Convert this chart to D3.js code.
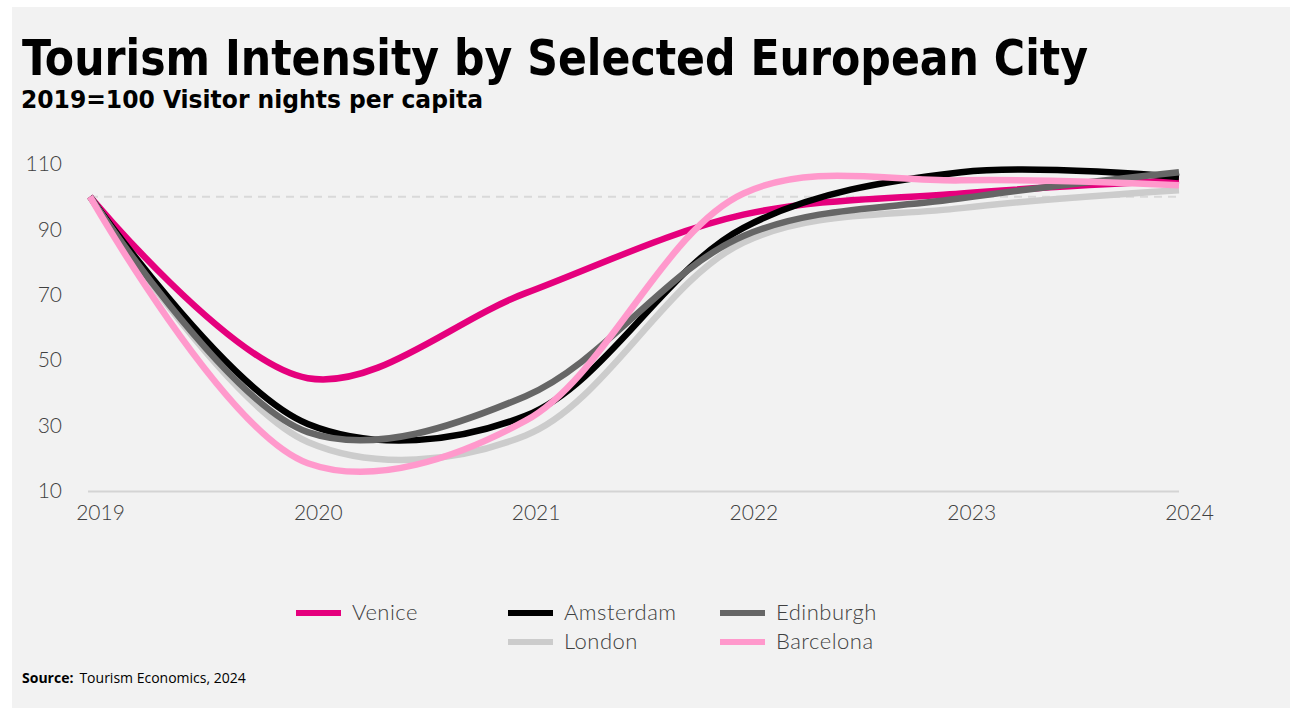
<!DOCTYPE html>
<html>
<head>
<meta charset="utf-8">
<script src="https://cdn.jsdelivr.net/npm/d3@7"></script>
<style>
  html, body { margin: 0; padding: 0; background: #ffffff; }
  svg { display: block; }
</style>
</head>
<body>
<svg id="chart" width="1290" height="708"></svg>
<script>
const years = [2019, 2020, 2021, 2022, 2023, 2024];
const yTicks = [10, 30, 50, 70, 90, 110];
const venice    = [100, 44.5, 70.5, 94.5, 101, 105];
const amsterdam = [100, 30.5, 33, 90.5, 107.5, 106];
const edinburgh = [100, 28, 39, 88, 99.5, 107.5];
const london    = [100, 25, 27, 86, 96.5, 102];
const barcelona = [100, 18.5, 31.5, 101, 105, 103.5];
const refValue = 100;

const series = [
  { name: "Venice",    values: venice,    color: "#e5007d" },
  { name: "Amsterdam", values: amsterdam, color: "#000000" },
  { name: "Edinburgh", values: edinburgh, color: "#666666" },
  { name: "London",    values: london,    color: "#cccccc" },
  { name: "Barcelona", values: barcelona, color: "#ff99cc" }
];
const drawOrder = ["Venice", "Amsterdam", "London", "Edinburgh", "Barcelona"];
const legendPos = { Venice: [0, 0], Amsterdam: [1, 0], Edinburgh: [2, 0], London: [1, 1], Barcelona: [2, 1] };

const svg = d3.select("#chart");
const labelFont = "Lato, 'Open Sans', sans-serif";
const headFont = "'DejaVu Sans Condensed', 'Liberation Sans Narrow', sans-serif";

svg.append("rect").attr("x", 12).attr("y", 7).attr("width", 1278).attr("height", 701).attr("fill", "#f2f2f2");

function fitText(sel, w) {
  sel.attr("textLength", w).attr("lengthAdjust", "spacingAndGlyphs");
}
const title = svg.append("text").attr("x", 22).attr("y", 75)
  .attr("font-family", headFont).attr("font-weight", 700).attr("font-size", 49).attr("fill", "#000")
  .text("Tourism Intensity by Selected European City");
fitText(title, 1066);
const sub = svg.append("text").attr("x", 21).attr("y", 108)
  .attr("font-family", headFont).attr("font-weight", 700).attr("font-size", 24).attr("fill", "#000")
  .text("2019=100 Visitor nights per capita");
fitText(sub, 462);

const x = d3.scaleLinear().domain([2019, 2024]).range([90, 1179]);
const y = d3.scaleLinear().domain([10, 110]).range([491, 164]);

svg.append("line").attr("x1", 88).attr("x2", x(2024)).attr("y1", y(10) + 0.5).attr("y2", y(10) + 0.5)
  .attr("stroke", "#d4d4d4").attr("stroke-width", 2);
svg.append("line").attr("x1", x(2019)).attr("x2", x(2024)).attr("y1", y(refValue)).attr("y2", y(refValue))
  .attr("stroke", "#d9d9d9").attr("stroke-width", 2).attr("stroke-dasharray", "8,6");

const yAxis = svg.append("g").attr("transform", `translate(${x(2019)},0)`)
  .call(d3.axisLeft(y).tickValues(yTicks).tickSize(0).tickPadding(28));
yAxis.select(".domain").remove();
yAxis.selectAll("text").attr("font-family", labelFont).attr("font-weight", 300)
  .attr("font-size", 21).attr("fill", "#404040");

const xAxis = svg.append("g").attr("transform", `translate(10,${y(10)})`)
  .call(d3.axisBottom(x).tickValues(years).tickFormat(d3.format("d")).tickSize(0).tickPadding(14));
xAxis.select(".domain").remove();
xAxis.selectAll("text").attr("font-family", labelFont).attr("font-weight", 300)
  .attr("font-size", 21).attr("fill", "#404040");

const line = d3.line()
  .x((d, i) => x(years[i]))
  .y(d => y(d))
  .curve(d3.curveCatmullRom.alpha(0.5));

drawOrder.forEach(n => {
  const s = series.find(d => d.name === n);
  svg.append("path").attr("d", line(s.values)).attr("fill", "none")
    .attr("stroke", s.color).attr("stroke-width", 6.5).attr("stroke-linecap", "butt")
    .attr("stroke-linejoin", "round");
});

const lg = svg.append("g");
series.forEach(s => {
  const [c, r] = legendPos[s.name];
  const lx = 296 + c * 212, ly = 613 + r * 29;
  lg.append("line").attr("x1", lx).attr("x2", lx + 45).attr("y1", ly).attr("y2", ly)
    .attr("stroke", s.color).attr("stroke-width", 6);
  lg.append("text").attr("x", lx + 56).attr("y", ly + 7)
    .attr("font-family", labelFont).attr("font-weight", 300).attr("font-size", 22)
    .attr("letter-spacing", 0.5)
    .attr("fill", "#404040").text(s.name);
});

const src = svg.append("text").attr("x", 22).attr("y", 683)
  .attr("font-family", "'Open Sans', sans-serif").attr("font-size", 14).attr("fill", "#000");
src.append("tspan").attr("font-weight", 700).text("Source:");
src.append("tspan").attr("dx", 6).text("Tourism Economics, 2024");
</script>
</body>
</html>
